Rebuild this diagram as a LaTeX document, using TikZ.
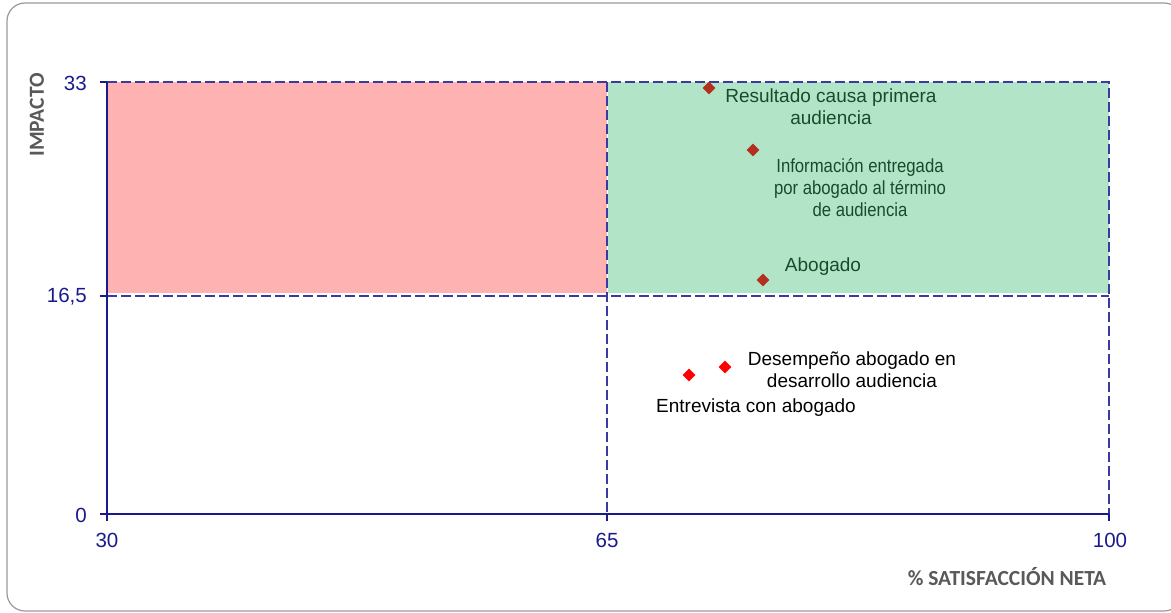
\documentclass[tikz,border=0pt]{standalone}
\usepackage{fontspec}
\setmainfont{Liberation Sans}
\newfontfamily\calibri{Carlito}
\newfontfamily\narrowsans[FakeStretch=0.88]{Liberation Sans}
\usetikzlibrary{shapes.geometric}
\definecolor{axisnavy}{HTML}{1A1A8C}
\definecolor{dashnavy}{HTML}{3A3AA0}
\definecolor{pinkfill}{HTML}{FFB2B2}
\definecolor{greenfill}{HTML}{B2E5C8}
\definecolor{darkred}{HTML}{B3301F}
\definecolor{labgreen}{HTML}{1A4A2A}
\definecolor{titlegray}{HTML}{595959}
\definecolor{framegray}{HTML}{999999}
\tikzset{
  axisline/.style={axisnavy, line width=1.6pt},
  gridline/.style={dashnavy, line width=1.5pt, dash pattern=on 10pt off 4pt},
  ticklab/.style={text=axisnavy, font=\fontsize{20.5}{24}\selectfont, inner sep=0pt},
  ptlab/.style={align=center, font=\fontsize{19}{22}\selectfont, inner sep=0pt},
  mkdark/.style={diamond, fill=darkred, minimum size=13pt, inner sep=0pt},
  mkred/.style={diamond, fill=red, minimum size=13pt, inner sep=0pt},
  axtitle/.style={text=titlegray, font=\calibri\bfseries\fontsize{21.5}{24}\selectfont, inner sep=0pt}
}
\begin{document}
\begin{tikzpicture}[x=1pt,y=-1pt]
\useasboundingbox (0,0) rectangle (1171,613);
\draw[framegray, line width=1.2pt, rounded corners=18pt] (7,3) rectangle (1182,611);
% quadrant fills
\fill[pinkfill] (107,82) rectangle (607,293);
\fill[greenfill] (608,82) rectangle (1109,293);
% grid dashed lines
\draw[gridline] (107,82) -- (1109,82) -- (1109,514);
\draw[gridline] (607,82) -- (607,514);
\draw[gridline] (107,296) -- (1109,296);
% axes
\draw[axisline] (107,82) -- (107,514) -- (1109,514);
% ticks
\draw[axisline] (100,82) -- (107,82);
\draw[axisline] (100,296) -- (107,296);
\draw[axisline] (100,514) -- (107,514) -- (107,521);
\draw[axisline] (607,514) -- (607,521);
\draw[axisline] (1109,514) -- (1109,521);
% tick labels
\node[ticklab, anchor=east] (y33) at (87,83) {33};
\node[ticklab, anchor=east] (y165) at (87,297) {16,5};
\node[ticklab, anchor=east] (y0) at (87,515) {0};
\node[ticklab] (x30) at (107,540) {30};
\node[ticklab] (x65) at (607,540) {65};
\node[ticklab] (x100) at (1110,540) {100};
% axis titles
\node[axtitle, rotate=90] (ytitle) at (37,115) {IMPACTO};
\node[axtitle] (xtitle) at (1007,577) {\% SATISFACCIÓN NETA};
% markers
\node[mkdark] (p1) at (709,88) {};
\node[mkdark] (p2) at (753,150) {};
\node[mkdark] (p3) at (763,280) {};
\node[mkred] (p4) at (725,367) {};
\node[mkred] (p5) at (689,375) {};
% point labels
\node[ptlab, text=labgreen] (l1) at (831,107) {Resultado causa primera\\audiencia};
\node[ptlab, text=labgreen, font=\narrowsans\fontsize{19}{22}\selectfont] (l2) at (860,188) {Información entregada\\por abogado al término\\de audiencia};
\node[ptlab, text=labgreen] (l3) at (823,267) {Abogado};
\node[ptlab, text=black] (l4) at (852,370) {Desempeño abogado en\\desarrollo audiencia};
\node[ptlab, text=black] (l5) at (756,408) {Entrevista con abogado};
\end{tikzpicture}
\end{document}
